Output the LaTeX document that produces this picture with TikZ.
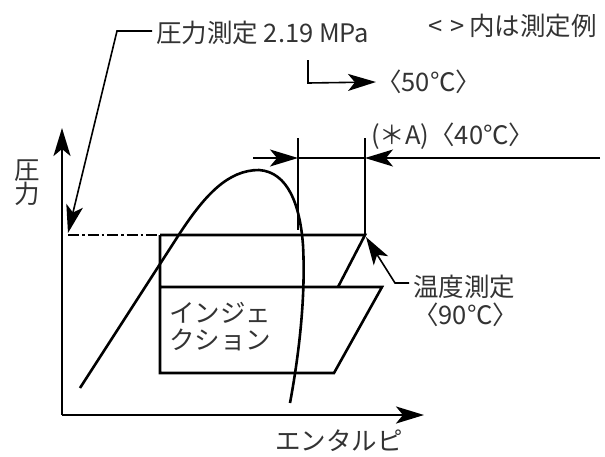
\documentclass[tikz,border=0pt]{standalone}
\usepackage{fontspec}
\setmainfont{Noto Sans CJK JP}
\usetikzlibrary{arrows.meta}

\begin{document}
\begin{tikzpicture}[
  x=1pt, y=-1pt,
  font=\fontsize{25.5}{28}\selectfont,
  >={Stealth[length=28pt,width=17pt,inset=7pt]},
  cyc/.style={line width=2.6pt},
  axisln/.style={line width=2.6pt},
  leadln/.style={line width=1.6pt},
  lbl/.style={inner sep=0pt, text=cText},
]
\definecolor{cText}{HTML}{333333}
\useasboundingbox (0,0) rectangle (605,456);

% ============================================================================
% axes: pressure (up) and enthalpy (right)
% ============================================================================
\coordinate (O) at (62,415);
\coordinate (yTip) at (62,128);
\coordinate (xTip) at (424,415);
\draw[axisln, ->] (O) -- (yTip);
\draw[axisln, ->] (O) -- (xTip);

\node[lbl, align=center, font=\fontsize{25.5}{22}\selectfont] (pLbl) at (27,183) {圧\\力};
\node[lbl] (hLbl) at (339,441) {エンタルピ};

% ============================================================================
% saturation dome
% ============================================================================
\draw[cyc]
  (80,388) -- (180,233)
  .. controls (205,195) and (228,170) .. (259,170)
  .. controls (288,172) and (300,205) .. (303,245)
  .. controls (306,300) and (298,360) .. (290,403);

% ============================================================================
% cycle with injection
% ============================================================================
\coordinate (ddS) at (68,235);   % start of dash-dot line
\coordinate (A) at (160,235);
\coordinate (B) at (365,235);
\coordinate (F) at (160,287);
\coordinate (G) at (338,287);
\coordinate (E) at (382,287);
\coordinate (C) at (160,373);
\coordinate (D) at (334,373);

\draw[cyc, dash pattern=on 11pt off 3pt on 2.5pt off 3pt] (ddS) -- (A);
\draw[cyc] (A) -- (B) -- (G);
\draw[cyc] (A) -- (C) -- (D) -- (E) -- (F);

\node[lbl, align=left, anchor=west,
      font=\fontsize{25.5}{27}\selectfont] (inj) at (169,327) {インジェ\\クション};

% ============================================================================
% dimension lines (*A)
% ============================================================================
\coordinate (v1T) at (298,138);
\coordinate (v1B) at (298,230);
\coordinate (v2T) at (365,138);
\coordinate (dL) at (298,158);
\coordinate (dR) at (365,158);
\coordinate (aL) at (253,158);
\coordinate (aR) at (600,158);
\draw[leadln] (v1T) -- (v1B);
\draw[leadln] (v2T) -- (B);
\draw[leadln, ->] (aL) -- (dL);
\draw[leadln] (dL) -- (dR);
\draw[leadln, ->] (aR) -- (dR);
\node[lbl, anchor=west] (aLbl) at (371,136) {(＊A)〈40℃〉};

% ============================================================================
% measurement labels
% ============================================================================
\node[lbl, anchor=west] (pMeas) at (156,33) {圧力測定 2.19 MPa};
\coordinate (pK) at (117,31);
\coordinate (pTip) at (68,233);
\draw[leadln, ->] (pMeas.west) ++(-4,-2) coordinate (pS) (pS) -- (pK) -- (pTip);

\node[lbl, anchor=east] (note) at (597,26) {<\,\,>\,内は測定例};

\coordinate (cT) at (308,60);
\coordinate (cK) at (308,83);
\node[lbl, anchor=west] (t50) at (376,82) {〈50℃〉};
\draw[leadln, ->] (cT) -- (cK) -- (t50.west);

\node[lbl, align=left, anchor=west,
      font=\fontsize{25.5}{28}\selectfont] (tMeas) at (413,301) {温度測定\\〈90℃〉};
\coordinate (tK) at (395,283);
\coordinate (tTip) at (366,237);
\draw[leadln, ->] (409,283) coordinate (tS) (tS) -- (tK) -- (tTip);

\end{tikzpicture}
\end{document}
